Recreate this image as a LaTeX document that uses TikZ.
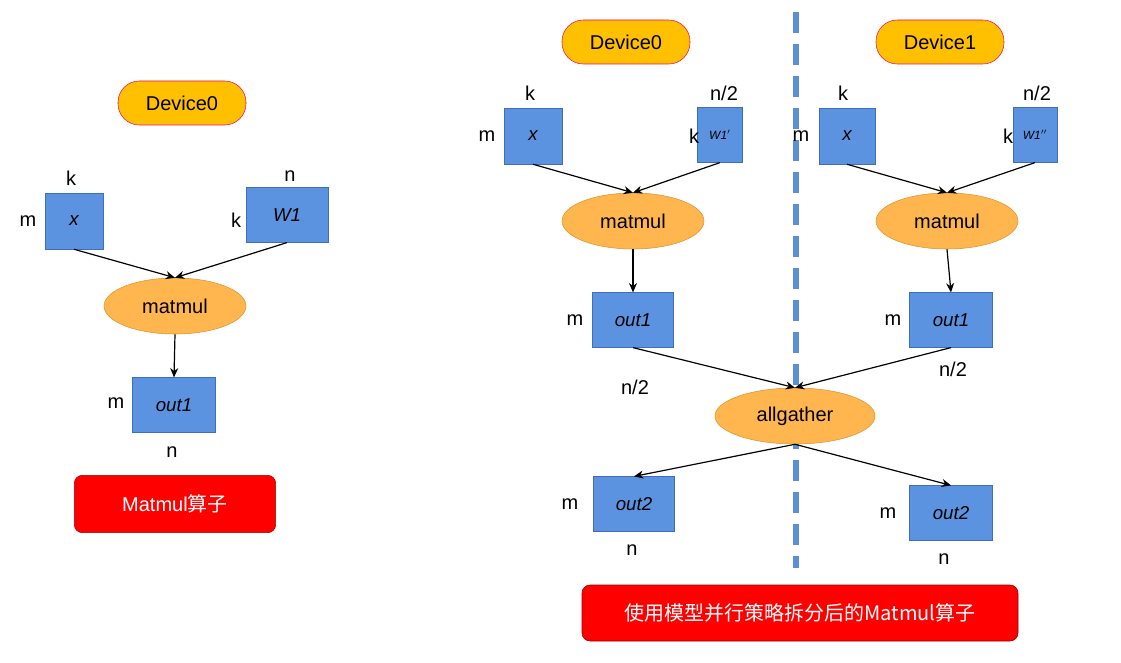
\documentclass[tikz,border=0pt]{standalone}
\usepackage{fontspec}
\setmainfont{Liberation Sans}
\newfontfamily\cjk{Noto Sans CJK SC}
\usetikzlibrary{shapes.geometric,arrows.meta}
\definecolor{boxb}{HTML}{5B93E0}
\definecolor{boxd}{HTML}{3F6FB8}
\definecolor{dev}{HTML}{FFC000}
\definecolor{ell}{HTML}{FFB64F}
\definecolor{elld}{HTML}{D9922E}
\definecolor{dashc}{HTML}{5B8FD9}
\begin{document}
\begin{tikzpicture}[x=0.75pt,y=-0.75pt,
 box/.style={draw=boxd,fill=boxb,minimum width=#1*0.75pt,inner sep=0pt,font=\itshape\fontsize{14}{14}\selectfont},
 box/.default=82,
 dv/.style={draw=magenta!60!red,fill=dev,rounded corners=16pt,minimum width=96pt,minimum height=33pt,font=\fontsize{15}{15}\selectfont},
 op/.style={ellipse,draw=elld,fill=ell,minimum width=#1*0.75pt,minimum height=42pt,inner sep=0pt,font=\fontsize{15}{15}\selectfont},
 op/.default=142,
 lb/.style={font=\fontsize{15}{15}\selectfont,inner sep=0pt},
 red/.style={draw=red!60!black,fill=red,rounded corners=6pt,text=white,font=\fontsize{15}{15}\selectfont},
 ar/.style={-{Stealth[length=7pt,width=6pt]},line width=0.9pt}]
\useasboundingbox (0,0) rectangle (1121,663);
% left
\node[dv] (d0) at (182,103) {Device0};
\node[box=58,minimum height=42pt] (x) at (74,221) {x};
\node[box=82,minimum height=41pt] (w) at (287,215) {W1};
\node[op] (mm) at (175,306) {matmul};
\node[box=83,minimum height=41pt] (o) at (174,405) {out1};
\node[lb] at (71,178) {k}; \node[lb] at (28,221) {m};
\node[lb] at (290,176) {n}; \node[lb] at (236,220) {k};
\node[lb] at (116,403) {m}; \node[lb] at (172,452) {n};
\node[red,minimum width=151pt,minimum height=43pt] (r1) at (175,504) {Matmul{\cjk 算子}};
\draw[ar] (x.south) -- (mm.north);
\draw[ar] (w.south) -- (mm.north);
\draw[ar] (mm.south) -- (o.north);
% right
\draw[dashc,line width=4pt,dash pattern=on 16pt off 8pt] (796,12) -- (796,568);
\node[dv] (e0) at (626,42) {Device0};
\node[dv] (e1) at (940,42) {Device1};
\node[box=58,minimum height=42pt] (xa) at (533,136) {x};
\node[box=45,minimum height=41pt,font=\itshape\fontsize{9}{9}\selectfont] (wa) at (720,135) {W1$'$};
\node[box=56,minimum height=42pt] (xb) at (847,136) {x};
\node[box=44,minimum height=41pt,font=\itshape\fontsize{9}{9}\selectfont] (wb) at (1035,135) {W1$''$};
\node[lb] at (530,93) {k}; \node[lb] at (724,93) {n/2}; \node[lb] at (487,136) {m}; \node[lb] at (694,136) {k};
\node[lb] at (843,93) {k}; \node[lb] at (1037,93) {n/2}; \node[lb] at (801,136) {m}; \node[lb] at (1008,136) {k};
\node[op] (ma) at (633,221) {matmul};
\node[op] (mb) at (947,221) {matmul};
\node[box=81,minimum height=41pt] (oa) at (633,320) {out1};
\node[box=83,minimum height=41pt] (ob) at (951,320) {out1};
\node[lb] at (575,320) {m}; \node[lb] at (893,320) {m};
\node[lb] at (635,387) {n/2}; \node[lb] at (953,369) {n/2};
\node[op=160] (ag) at (795,416) {allgather};
\node[box=81,minimum height=41pt] (pa) at (634,504) {out2};
\node[box=83,minimum height=41pt] (pb) at (951,513) {out2};
\node[lb] at (570,504) {m}; \node[lb] at (888,513) {m};
\node[lb] at (632,550) {n}; \node[lb] at (944,559) {n};
\node[red,minimum width=327pt,minimum height=42pt] (r2) at (800,613) {\cjk 使用模型并行策略拆分后的Matmul算子};
\draw[ar] (xa.south) -- (ma.north);
\draw[ar] (wa.south) -- (ma.north);
\draw[ar] (xb.south) -- (mb.north);
\draw[ar] (wb.south) -- (mb.north);
\draw[ar] (ma.south) -- (oa.north);
\draw[ar] (mb.south) -- (ob.north);
\draw[ar] (oa.south) -- (ag.north);
\draw[ar] (ob.south) -- (ag.north);
\draw[ar] (ag.south) -- (pa.north);
\draw[ar] (ag.south) -- (pb.north);
\end{tikzpicture}
\end{document}
